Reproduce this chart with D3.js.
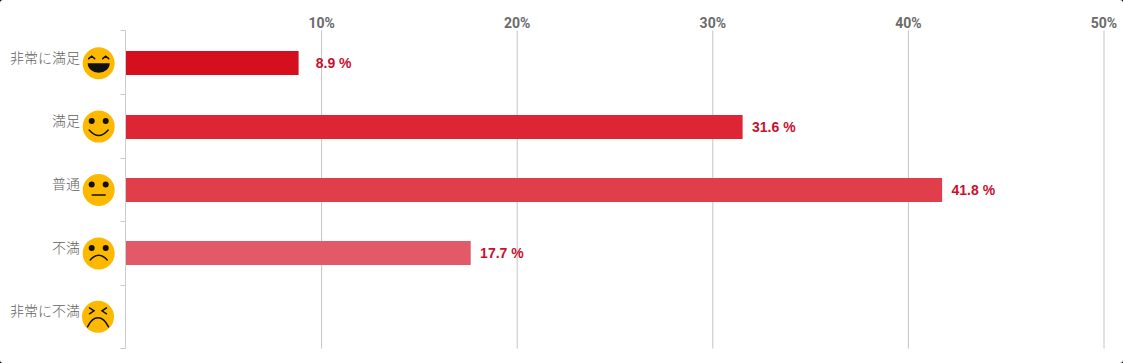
<!DOCTYPE html>
<html>
<head>
<meta charset="utf-8">
<script src="https://cdn.jsdelivr.net/npm/d3@7"></script>
<style>
  html, body { margin: 0; padding: 0; background: #000; }
  #chart { width: 1123px; height: 363px; background: #fff; border-radius: 3px; overflow: hidden; }
  svg { display: block; }
</style>
</head>
<body>
<div id="chart"></div>
<script>
let categories = ["非常に満足", "満足", "普通", "不満", "非常に不満"];
let moods = ["laugh", "smile", "neutral", "sad", "cry"];
let values = [8.9, 31.6, 41.8, 17.7, null];
let xTicks = [10, 20, 30, 40, 50];
let barColors = ["#d60f1e", "#de2535", "#e03e4a", "#e25a67", "#e57580"];

let w = 1123;
let h = 363;

let viz = d3.select("#chart").append("svg")
    .attr("width", w)
    .attr("height", h)
;

// SCALES
let x = d3.scaleLinear().domain([0, 50]).range([125.5, 1103.5]);
let y = d3.scaleBand().domain(categories).range([31.5, 348.5]);
// ticks sit a little higher than the bars do
let yEdge = d3.scaleBand().domain(categories).range([30.3, 348.4]);
let color = d3.scaleOrdinal().domain(categories).range(barColors);

// grid lines + top labels
let xAxis = viz.append("g")
    .attr("transform", "translate(0,30.5)")
    .call(d3.axisTop(x).tickValues(xTicks).tickSize(-318).tickPadding(3).tickFormat(d => d + "%"))
;
xAxis.select(".domain").remove();
xAxis.selectAll("line").attr("stroke", "#c4c4c4");
xAxis.selectAll("text")
    .attr("font-family", "Roboto, sans-serif")
    .attr("font-size", 14)
    .attr("font-weight", 700)
    .attr("fill", "#6b6b6b")
;

// left axis line and the ticks between categories
let edges = categories.map(c => yEdge(c)).concat([yEdge.range()[1]]);
viz.append("line")
    .attr("x1", x(0)).attr("x2", x(0))
    .attr("y1", 30.5).attr("y2", 348.5)
    .attr("stroke", "#c9ced6")
;
viz.selectAll(".edge").data(edges).enter()
  .append("line")
    .attr("class", "edge")
    .attr("x1", x(0) - 5).attr("x2", x(0))
    .attr("y1", d => Math.round(d) + 0.5).attr("y2", d => Math.round(d) + 0.5)
    .attr("stroke", "#c9c9c9")
;

// bars
let rows = categories.map((c, i) => ({ cat: c, mood: moods[i], val: values[i] }));
let barH = 24;
let mid = d => y(d.cat) + y.bandwidth() / 2;

viz.selectAll(".bar").data(rows.filter(d => d.val != null)).enter()
  .append("rect")
    .attr("class", "bar")
    .attr("x", x(0) + 0.5)
    .attr("y", d => Math.round(mid(d) - barH / 2))
    .attr("width", d => x(d.val) - x(0) - 1.5)
    .attr("height", barH)
    .attr("fill", d => color(d.cat))
;

// value labels all end the same distance past the bar
viz.selectAll(".val").data(rows.filter(d => d.val != null)).enter()
  .append("text")
    .attr("class", "val")
    .attr("x", d => x(d.val) + 52)
    .attr("y", d => mid(d) + 5)
    .attr("text-anchor", "end")
    .attr("font-family", "'Liberation Sans', Arial, sans-serif")
    .attr("font-size", 14)
    .attr("font-weight", 700)
    .attr("fill", "#c9102e")
    .text(d => d.val.toFixed(1) + " %")
;

// category labels, opacity keeps the text antialiasing grey
viz.append("g").attr("opacity", 0.99)
  .selectAll(".cat").data(rows).enter()
  .append("text")
    .attr("class", "cat")
    .attr("x", 80)
    .attr("y", d => mid(d) - 4.3)
    .attr("text-anchor", "end")
    .attr("dominant-baseline", "middle")
    .attr("font-family", "'Noto Sans CJK JP', sans-serif")
    .attr("font-size", 14)
    .attr("font-weight", 300)
    .attr("fill", "#5f5f5f")
    .text(d => d.cat)
;

// faces
let faces = viz.selectAll(".face").data(rows).enter()
  .append("g")
    .attr("class", "face")
    .attr("transform", d => "translate(" + (d.mood == "cry" ? 98 : 98.7) + "," + mid(d) + ")")
;
faces.append("circle").attr("r", 16).attr("fill", "#fdb900");

function stroke(sel, d) {
  sel.append("path")
    .attr("d", d)
    .attr("fill", "none")
    .attr("stroke", "#111")
    .attr("stroke-width", 1.5)
    .attr("stroke-linecap", "round")
  ;
}

faces.each(function(d) {
  let g = d3.select(this);
  if (d.mood == "smile" || d.mood == "neutral" || d.mood == "sad") {
    [-7, 7].forEach(ex => g.append("circle").attr("cx", ex).attr("cy", -5.5).attr("r", 3).attr("fill", "#111"));
  }
  if (d.mood == "laugh") {
    stroke(g, "M-10,-4.5 L-7,-7 L-4,-4.5");
    stroke(g, "M4,-4.5 L7,-7 L10,-4.5");
    g.append("path").attr("d", "M-11,0 H11 A11,9.5 0 0 1 -11,0 Z").attr("fill", "#111");
  }
  if (d.mood == "smile") stroke(g, "M-9.5,3.5 Q0,14.5 9.5,3.5");
  if (d.mood == "neutral") stroke(g, "M-6.5,5 H6.5");
  if (d.mood == "sad") stroke(g, "M-8.5,6.5 Q0,-3 8.5,6.5");
  if (d.mood == "cry") {
    stroke(g, "M-8.5,-9 L-4,-6 L-8.5,-3");
    stroke(g, "M8.5,-9 L4,-6 L8.5,-3");
    stroke(g, "M-10.5,10 Q-6,1 0,1 Q6,1 10.5,10");
  }
});
</script>
</body>
</html>
